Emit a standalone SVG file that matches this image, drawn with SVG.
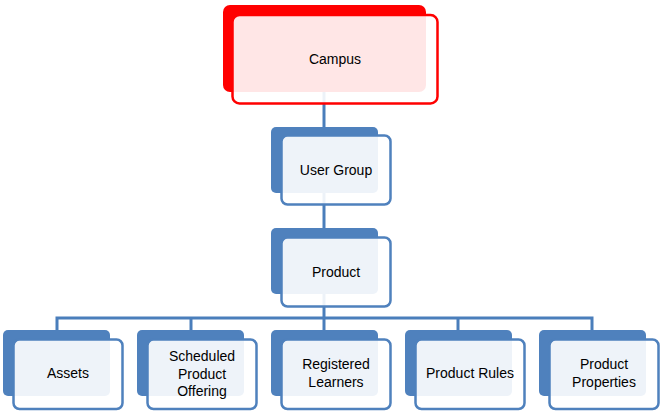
<svg xmlns="http://www.w3.org/2000/svg" width="665" height="416" viewBox="0 0 665 416">
<style>
.bk{fill:#4f81bd}
.fr{fill:#ffffff;fill-opacity:0.9;stroke:#4f81bd;stroke-width:2.5}
.bkr{fill:#ff0000}
.frr{fill:#ffffff;fill-opacity:0.9;stroke:#ff0000;stroke-width:2.5}
.t{font-family:"Liberation Sans",Arial,sans-serif;font-size:14px;fill:#000;text-anchor:middle}
.c{fill:none;stroke:#4a7ebb;stroke-width:3}
</style>
<rect width="665" height="416" fill="#ffffff"/>
<g id="connectors">
<path class="c" d="M324,92 V128"/>
<path class="c" d="M324,193 V229"/>
<path class="c" d="M324,294 V318"/>
<path class="c" d="M57,331 V318 H592 V331"/>
<path class="c" d="M191,318 V331"/>
<path class="c" d="M324,318 V331"/>
<path class="c" d="M458,318 V331"/>
</g>
<g id="campus">
<rect class="bkr" x="223" y="5" width="203" height="87" rx="7"/>
<rect class="frr" x="232.5" y="15" width="205" height="88.5" rx="7"/>
<text class="t" x="335" y="64">Campus</text>
</g>
<g id="user-group">
<rect class="bk" x="271" y="127" width="107" height="66" rx="5"/>
<rect class="fr" x="281.5" y="135.5" width="109" height="69" rx="6"/>
<text class="t" x="336" y="175">User Group</text>
</g>
<g id="product">
<rect class="bk" x="271" y="228" width="107" height="66" rx="5"/>
<rect class="fr" x="281.5" y="237.5" width="109" height="69" rx="6"/>
<text class="t" x="336" y="277">Product</text>
</g>
<g id="assets">
<rect class="bk" x="3" y="330" width="107" height="66" rx="5"/>
<rect class="fr" x="13.5" y="339.5" width="109" height="69.5" rx="6"/>
<text class="t" x="68" y="378">Assets</text>
</g>
<g id="scheduled-product-offering">
<rect class="bk" x="137" y="330" width="107" height="66" rx="5"/>
<rect class="fr" x="147.5" y="339.5" width="109" height="69.5" rx="6"/>
<text class="t" x="202" y="361">Scheduled</text>
<text class="t" x="202" y="379">Product</text>
<text class="t" x="202" y="396">Offering</text>
</g>
<g id="registered-learners">
<rect class="bk" x="271" y="330" width="107" height="66" rx="5"/>
<rect class="fr" x="281.5" y="339.5" width="109" height="69.5" rx="6"/>
<text class="t" x="336" y="369">Registered</text>
<text class="t" x="336" y="387">Learners</text>
</g>
<g id="product-rules">
<rect class="bk" x="405" y="330" width="107" height="66" rx="5"/>
<rect class="fr" x="415.5" y="339.5" width="109" height="69.5" rx="6"/>
<text class="t" x="470" y="378">Product Rules</text>
</g>
<g id="product-properties">
<rect class="bk" x="539" y="330" width="107" height="66" rx="5"/>
<rect class="fr" x="549.5" y="339.5" width="109" height="69.5" rx="6"/>
<text class="t" x="604" y="369">Product</text>
<text class="t" x="604" y="387">Properties</text>
</g>
</svg>
